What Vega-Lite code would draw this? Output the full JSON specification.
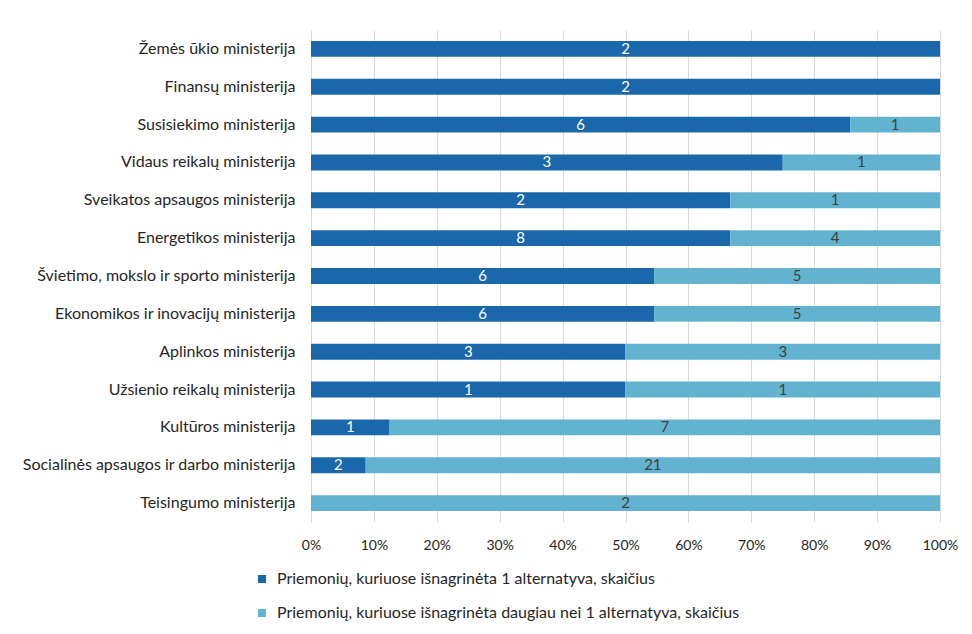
{
  "$schema": "https://vega.github.io/schema/vega-lite/v6.json",
  "autosize": "none",
  "width": 629,
  "height": 492,
  "padding": {"left": 311, "top": 30, "right": 32, "bottom": 112},
  "background": "white",
  "config": {
    "font": "Lato",
    "view": {"stroke": null},
    "axis": {"labelFont": "Lato", "labelFontSize": 14, "labelColor": "#262626", "domain": false, "ticks": false, "title": null},
    "legend": {"labelFont": "Lato", "labelFontSize": 16, "labelColor": "#262626"}
  },
  "data": {
    "values": [
      {"ministerija": "Žemės ūkio ministerija", "series": "Priemonių, kuriuose išnagrinėta 1 alternatyva, skaičius", "value": 2},
      {"ministerija": "Finansų ministerija", "series": "Priemonių, kuriuose išnagrinėta 1 alternatyva, skaičius", "value": 2},
      {"ministerija": "Susisiekimo ministerija", "series": "Priemonių, kuriuose išnagrinėta 1 alternatyva, skaičius", "value": 6},
      {"ministerija": "Susisiekimo ministerija", "series": "Priemonių, kuriuose išnagrinėta daugiau nei 1 alternatyva, skaičius", "value": 1},
      {"ministerija": "Vidaus reikalų ministerija", "series": "Priemonių, kuriuose išnagrinėta 1 alternatyva, skaičius", "value": 3},
      {"ministerija": "Vidaus reikalų ministerija", "series": "Priemonių, kuriuose išnagrinėta daugiau nei 1 alternatyva, skaičius", "value": 1},
      {"ministerija": "Sveikatos apsaugos ministerija", "series": "Priemonių, kuriuose išnagrinėta 1 alternatyva, skaičius", "value": 2},
      {"ministerija": "Sveikatos apsaugos ministerija", "series": "Priemonių, kuriuose išnagrinėta daugiau nei 1 alternatyva, skaičius", "value": 1},
      {"ministerija": "Energetikos ministerija", "series": "Priemonių, kuriuose išnagrinėta 1 alternatyva, skaičius", "value": 8},
      {"ministerija": "Energetikos ministerija", "series": "Priemonių, kuriuose išnagrinėta daugiau nei 1 alternatyva, skaičius", "value": 4},
      {"ministerija": "Švietimo, mokslo ir sporto ministerija", "series": "Priemonių, kuriuose išnagrinėta 1 alternatyva, skaičius", "value": 6},
      {"ministerija": "Švietimo, mokslo ir sporto ministerija", "series": "Priemonių, kuriuose išnagrinėta daugiau nei 1 alternatyva, skaičius", "value": 5},
      {"ministerija": "Ekonomikos ir inovacijų ministerija", "series": "Priemonių, kuriuose išnagrinėta 1 alternatyva, skaičius", "value": 6},
      {"ministerija": "Ekonomikos ir inovacijų ministerija", "series": "Priemonių, kuriuose išnagrinėta daugiau nei 1 alternatyva, skaičius", "value": 5},
      {"ministerija": "Aplinkos ministerija", "series": "Priemonių, kuriuose išnagrinėta 1 alternatyva, skaičius", "value": 3},
      {"ministerija": "Aplinkos ministerija", "series": "Priemonių, kuriuose išnagrinėta daugiau nei 1 alternatyva, skaičius", "value": 3},
      {"ministerija": "Užsienio reikalų ministerija", "series": "Priemonių, kuriuose išnagrinėta 1 alternatyva, skaičius", "value": 1},
      {"ministerija": "Užsienio reikalų ministerija", "series": "Priemonių, kuriuose išnagrinėta daugiau nei 1 alternatyva, skaičius", "value": 1},
      {"ministerija": "Kultūros ministerija", "series": "Priemonių, kuriuose išnagrinėta 1 alternatyva, skaičius", "value": 1},
      {"ministerija": "Kultūros ministerija", "series": "Priemonių, kuriuose išnagrinėta daugiau nei 1 alternatyva, skaičius", "value": 7},
      {"ministerija": "Socialinės apsaugos ir darbo ministerija", "series": "Priemonių, kuriuose išnagrinėta 1 alternatyva, skaičius", "value": 2},
      {"ministerija": "Socialinės apsaugos ir darbo ministerija", "series": "Priemonių, kuriuose išnagrinėta daugiau nei 1 alternatyva, skaičius", "value": 21},
      {"ministerija": "Teisingumo ministerija", "series": "Priemonių, kuriuose išnagrinėta daugiau nei 1 alternatyva, skaičius", "value": 2}
    ]
  },
  "encoding": {
    "y": {
      "field": "ministerija",
      "type": "nominal",
      "sort": ["Žemės ūkio ministerija", "Finansų ministerija", "Susisiekimo ministerija", "Vidaus reikalų ministerija", "Sveikatos apsaugos ministerija", "Energetikos ministerija", "Švietimo, mokslo ir sporto ministerija", "Ekonomikos ir inovacijų ministerija", "Aplinkos ministerija", "Užsienio reikalų ministerija", "Kultūros ministerija", "Socialinės apsaugos ir darbo ministerija", "Teisingumo ministerija"],
      "scale": {"paddingInner": 0.58, "paddingOuter": 0.29},
      "axis": {"labelPadding": 16, "labelLimit": 400, "grid": false, "labelFontSize": 16}
    }
  },
  "layer": [
    {
      "mark": {"type": "bar"},
      "encoding": {
        "x": {
          "field": "value",
          "type": "quantitative",
          "stack": "normalize",
          "axis": {"format": ".0%", "values": [0, 0.1, 0.2, 0.3, 0.4, 0.5, 0.6, 0.7, 0.8, 0.9, 1], "grid": true, "gridColor": "#d9d9d9", "labelPadding": 16, "labelFlush": false}
        },
        "color": {
          "field": "series",
          "type": "nominal",
          "scale": {
            "domain": ["Priemonių, kuriuose išnagrinėta 1 alternatyva, skaičius", "Priemonių, kuriuose išnagrinėta daugiau nei 1 alternatyva, skaičius"],
            "range": ["#1a68ab", "#62b3cf"]
          },
          "legend": {
            "title": null,
            "orient": "none",
            "direction": "vertical",
            "legendX": -57,
            "legendY": 541,
            "symbolType": "square",
            "symbolSize": 64,
            "symbolStrokeWidth": 0,
            "rowPadding": 18,
            "labelLimit": 800,
            "labelOffset": 7
          }
        },
        "order": {"field": "series", "sort": "ascending"}
      }
    },
    {
      "mark": {"type": "text", "fontSize": 15, "font": "Lato"},
      "encoding": {
        "x": {"field": "value", "type": "quantitative", "stack": "normalize", "bandPosition": 0.5},
        "text": {"field": "value", "type": "quantitative"},
        "detail": {"field": "series"},
        "order": {"field": "series", "sort": "ascending"},
        "color": {
          "condition": {"test": "datum.series === 'Priemonių, kuriuose išnagrinėta 1 alternatyva, skaičius'", "value": "white"},
          "value": "#404040"
        }
      }
    }
  ]
}
